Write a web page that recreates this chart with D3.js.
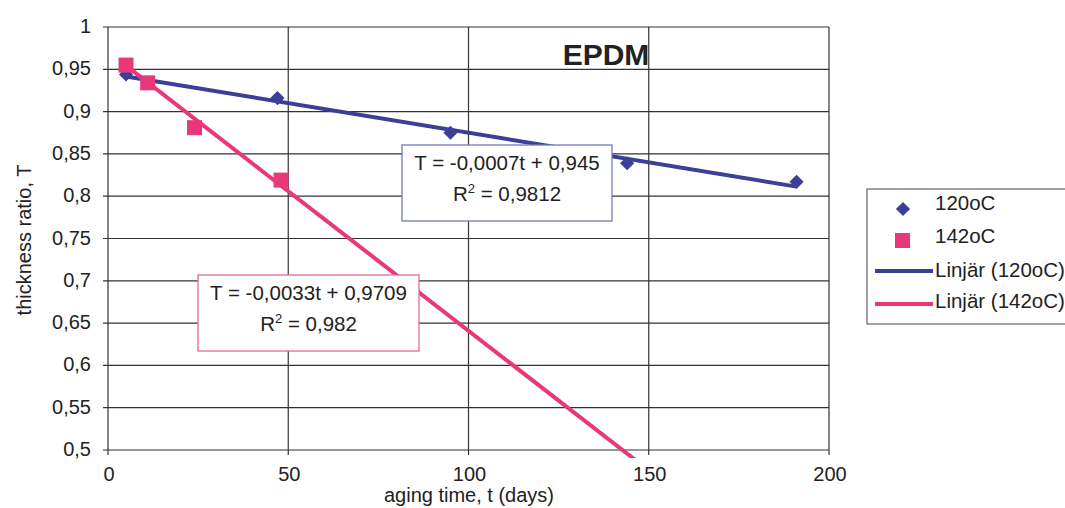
<!DOCTYPE html>
<html>
<head>
<meta charset="utf-8">
<script src="https://cdn.jsdelivr.net/npm/d3@7"></script>
<style>
  body { margin: 0; background: #fff; }
  svg text { font-family: Arial, "Liberation Sans", sans-serif; fill: #222; }
</style>
</head>
<body>
<div id="chart"></div>
<script>
// data
const days120 = [5, 47, 95, 144, 191];
const ratio120 = [0.944, 0.916, 0.875, 0.839, 0.817];
const days142 = [5, 11, 24, 48];
const ratio142 = [0.955, 0.934, 0.881, 0.819];

// trendline coefficients (slope, intercept) and labels
const fit120 = [-0.0007, 0.945];
const fit142 = [-0.0033, 0.9709];
const fitRange120 = [5, 191];
const fitRange142 = [5, 160];
const eqLabels120 = ["T = -0,0007t + 0,945", "0,9812"];
const eqLabels142 = ["T = -0,0033t + 0,9709", "0,982"];

const xTicks = [0, 50, 100, 150, 200];
const yTicks = [0.5, 0.55, 0.6, 0.65, 0.7, 0.75, 0.8, 0.85, 0.9, 0.95, 1];
const yTickLabels = ["0,5", "0,55", "0,6", "0,65", "0,7", "0,75", "0,8", "0,85", "0,9", "0,95", "1"];
const legendLabels = ["120oC", "142oC", "Linjär (120oC)", "Linjär (142oC)"];

const blue = "#3b3f98", pink = "#e8387a";

const margin = { top: 27, left: 108 };
const width = 721, height = 423;

const svg = d3.select("#chart").append("svg")
    .attr("width", 1065)
    .attr("height", 508);

const g = svg.append("g")
    .attr("transform", "translate(" + margin.left + "," + margin.top + ")");

let x = d3.scaleLinear().domain([0, 200]).range([0, width]);
let y = d3.scaleLinear().domain([0.5, 1]).range([height, 0]);

// grid
g.selectAll(".hgrid").data(yTicks).enter().append("line")
    .attr("x1", -5).attr("x2", width)
    .attr("y1", d => y(d)).attr("y2", d => y(d))
    .attr("stroke", "#333").attr("stroke-width", 1.2);
g.selectAll(".vgrid").data(xTicks).enter().append("line")
    .attr("x1", d => x(d)).attr("x2", d => x(d))
    .attr("y1", 0).attr("y2", height + 5)
    .attr("stroke", "#333").attr("stroke-width", 1.2);

// tick labels
g.selectAll(".ylab").data(yTicks).enter().append("text")
    .attr("x", -17).attr("y", d => y(d) + 6)
    .attr("text-anchor", "end")
    .style("font-size", "20px")
    .text((d, i) => yTickLabels[i]);
g.selectAll(".xlab").data(xTicks).enter().append("text")
    .attr("x", d => x(d) + 1).attr("y", height + 31)
    .attr("text-anchor", "middle")
    .style("font-size", "20px")
    .text(d => d);

// axis titles
svg.append("text")
    .attr("transform", "translate(31,240) rotate(-90)")
    .attr("text-anchor", "middle")
    .style("font-size", "20px")
    .text("thickness ratio, T");
svg.append("text")
    .attr("x", 469).attr("y", 502)
    .attr("text-anchor", "middle")
    .style("font-size", "20px")
    .text("aging time, t (days)");

// title
svg.append("text")
    .attr("x", 606).attr("y", 65)
    .attr("text-anchor", "middle")
    .style("font-size", "30px").style("font-weight", "bold")
    .text("EPDM");

// trendlines, clipped to plot area
svg.append("clipPath").attr("id", "plotclip")
    .append("rect").attr("width", width).attr("height", height + 8);

const plot = g.append("g").attr("clip-path", "url(#plotclip)");

function trend(fit, range) {
    return range.map(t => [t, fit[0] * t + fit[1]]);
}
let line = d3.line().x(d => x(d[0])).y(d => y(d[1]));

plot.append("path")
    .attr("d", line(trend(fit120, fitRange120)))
    .attr("fill", "none").attr("stroke", blue).attr("stroke-width", 4);
plot.append("path")
    .attr("d", line(trend(fit142, fitRange142)))
    .attr("fill", "none").attr("stroke", pink).attr("stroke-width", 4);

// markers
plot.selectAll(".d120").data(days120).enter().append("rect")
    .attr("x", -5).attr("y", -5).attr("width", 10).attr("height", 10)
    .attr("transform", (d, i) => "translate(" + x(d) + "," + y(ratio120[i]) + ") rotate(45)")
    .attr("fill", blue);
plot.selectAll(".d142").data(days142).enter().append("rect")
    .attr("x", d => x(d) - 7.5)
    .attr("y", (d, i) => y(ratio142[i]) - 7.5)
    .attr("width", 15).attr("height", 15)
    .attr("fill", pink);

// equation boxes
function eqBox(bx, by, bw, bh, color, labels) {
    svg.append("rect")
        .attr("x", bx).attr("y", by).attr("width", bw).attr("height", bh)
        .attr("fill", "#fff").attr("stroke", color).attr("stroke-width", 1.3);
    svg.append("text")
        .attr("x", bx + bw / 2).attr("y", by + 25)
        .attr("text-anchor", "middle").style("font-size", "20.5px")
        .text(labels[0]);
    const t2 = svg.append("text")
        .attr("x", bx + bw / 2).attr("y", by + 56)
        .attr("text-anchor", "middle").style("font-size", "20.5px");
    t2.append("tspan").text("R");
    t2.append("tspan").attr("dy", -8).style("font-size", "13px").text("2");
    t2.append("tspan").attr("dy", 8).text(" = " + labels[1]);
}
eqBox(402, 145, 210, 76, "#7478bc", eqLabels120);
eqBox(198, 275, 221, 76, "#e06a94", eqLabels142);

// legend
const lg = svg.append("g").attr("transform", "translate(867,189)");
lg.append("rect")
    .attr("width", 210).attr("height", 135)
    .attr("fill", "#fff").attr("stroke", "#444").attr("stroke-width", 1);
lg.append("rect").attr("x", -5).attr("y", -5).attr("width", 10).attr("height", 10)
    .attr("transform", "translate(36,20) rotate(45)").attr("fill", blue);
lg.append("rect").attr("x", 28).attr("y", 44).attr("width", 15).attr("height", 15).attr("fill", pink);
lg.append("line").attr("x1", 8).attr("x2", 66).attr("y1", 82).attr("y2", 82)
    .attr("stroke", blue).attr("stroke-width", 4);
lg.append("line").attr("x1", 8).attr("x2", 66).attr("y1", 115).attr("y2", 115)
    .attr("stroke", pink).attr("stroke-width", 4);
lg.selectAll(".ltxt").data(legendLabels).enter().append("text")
    .attr("x", 68)
    .attr("y", (d, i) => [21, 54, 88, 119][i])
    .style("font-size", "20.5px")
    .text(d => d);
</script>
</body>
</html>
